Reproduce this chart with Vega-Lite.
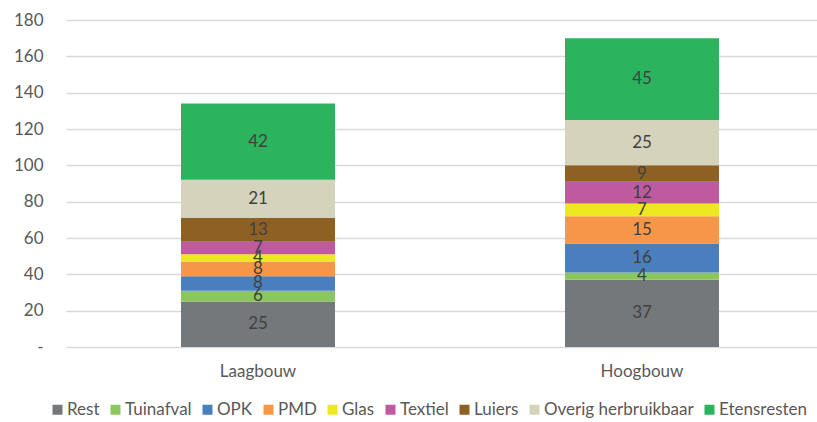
{
  "$schema": "https://vega.github.io/schema/vega-lite/v6.json",
  "width": 751,
  "height": 327,
  "autosize": {"type": "none"},
  "padding": {"left": 66, "top": 20, "right": 0, "bottom": 75},
  "background": "white",
  "config": {
    "font": "Lato",
    "view": {"stroke": null},
    "axis": {"labelFont": "Lato", "labelFontSize": 17, "labelColor": "#595959", "labelOverlap": false},
    "axisY": {"labelOverlap": false}
  },
  "data": {
    "values": [
      {"type": "Laagbouw", "cat": "Rest", "value": 25, "ord": 1},
      {"type": "Laagbouw", "cat": "Tuinafval", "value": 6, "ord": 2},
      {"type": "Laagbouw", "cat": "OPK", "value": 8, "ord": 3},
      {"type": "Laagbouw", "cat": "PMD", "value": 8, "ord": 4},
      {"type": "Laagbouw", "cat": "Glas", "value": 4, "ord": 5},
      {"type": "Laagbouw", "cat": "Textiel", "value": 7, "ord": 6},
      {"type": "Laagbouw", "cat": "Luiers", "value": 13, "ord": 7},
      {"type": "Laagbouw", "cat": "Overig herbruikbaar", "value": 21, "ord": 8},
      {"type": "Laagbouw", "cat": "Etensresten", "value": 42, "ord": 9},
      {"type": "Hoogbouw", "cat": "Rest", "value": 37, "ord": 1},
      {"type": "Hoogbouw", "cat": "Tuinafval", "value": 4, "ord": 2},
      {"type": "Hoogbouw", "cat": "OPK", "value": 16, "ord": 3},
      {"type": "Hoogbouw", "cat": "PMD", "value": 15, "ord": 4},
      {"type": "Hoogbouw", "cat": "Glas", "value": 7, "ord": 5},
      {"type": "Hoogbouw", "cat": "Textiel", "value": 12, "ord": 6},
      {"type": "Hoogbouw", "cat": "Luiers", "value": 9, "ord": 7},
      {"type": "Hoogbouw", "cat": "Overig herbruikbaar", "value": 25, "ord": 8},
      {"type": "Hoogbouw", "cat": "Etensresten", "value": 45, "ord": 9}
    ]
  },
  "transform": [
    {"stack": "value", "groupby": ["type"], "sort": [{"field": "ord", "order": "ascending"}], "as": ["y0", "y1"]},
    {"calculate": "(datum.y0 + datum.y1) / 2", "as": "ymid"}
  ],
  "encoding": {
    "x": {
      "field": "type",
      "type": "nominal",
      "sort": ["Laagbouw", "Hoogbouw"],
      "scale": {"range": [0, 768], "paddingInner": 0.599, "paddingOuter": 0.2995},
      "axis": {"title": null, "labelAngle": 0, "ticks": false, "domain": false, "labelPadding": 16, "labelBaseline": "top"}
    }
  },
  "layer": [
    {
      "mark": {"type": "bar"},
      "encoding": {
        "y": {
          "field": "y0",
          "type": "quantitative",
          "scale": {"domain": [0, 180], "nice": false},
          "axis": {
            "title": null,
            "values": [0, 20, 40, 60, 80, 100, 120, 140, 160, 180],
            "labelExpr": "datum.value == 0 ? '-' : datum.label",
            "labelOverlap": false,
            "labelBound": false,
            "labelFlush": false,
            "ticks": false,
            "domain": false,
            "grid": true,
            "gridColor": "#d9d9d9",
            "gridWidth": 1.5,
            "labelPadding": 23
          }
        },
        "y2": {"field": "y1"},
        "color": {
          "field": "cat",
          "type": "nominal",
          "scale": {
            "domain": ["Rest", "Tuinafval", "OPK", "PMD", "Glas", "Textiel", "Luiers", "Overig herbruikbaar", "Etensresten"],
            "range": ["#75787b", "#8bc75f", "#4a7fbd", "#f79548", "#ede81f", "#c05aa0", "#8f6023", "#d5d3bc", "#2bb35e"]
          },
          "legend": {
            "title": null,
            "orient": "none",
            "legendX": -17,
            "legendY": 381,
            "padding": 0,
            "direction": "horizontal",
            "symbolType": "square",
            "symbolSize": 100,
            "symbolStrokeWidth": 0,
            "labelFont": "Lato",
            "labelFontSize": 17,
            "labelColor": "#595959",
            "labelOffset": 1,
            "columnPadding": 7
          }
        }
      }
    },
    {
      "mark": {"type": "text", "fontSize": 17, "color": "#404040", "baseline": "middle", "align": "center"},
      "encoding": {
        "y": {
          "field": "ymid",
          "type": "quantitative",
          "axis": {
            "title": null,
            "values": [0, 20, 40, 60, 80, 100, 120, 140, 160, 180],
            "labelExpr": "datum.value == 0 ? '-' : datum.label",
            "labelOverlap": false,
            "labelBound": false,
            "labelFlush": false,
            "ticks": false,
            "domain": false,
            "grid": true,
            "gridColor": "#d9d9d9",
            "gridWidth": 1.5,
            "labelPadding": 23
          }
        },
        "text": {"field": "value", "type": "quantitative"}
      }
    }
  ]
}
